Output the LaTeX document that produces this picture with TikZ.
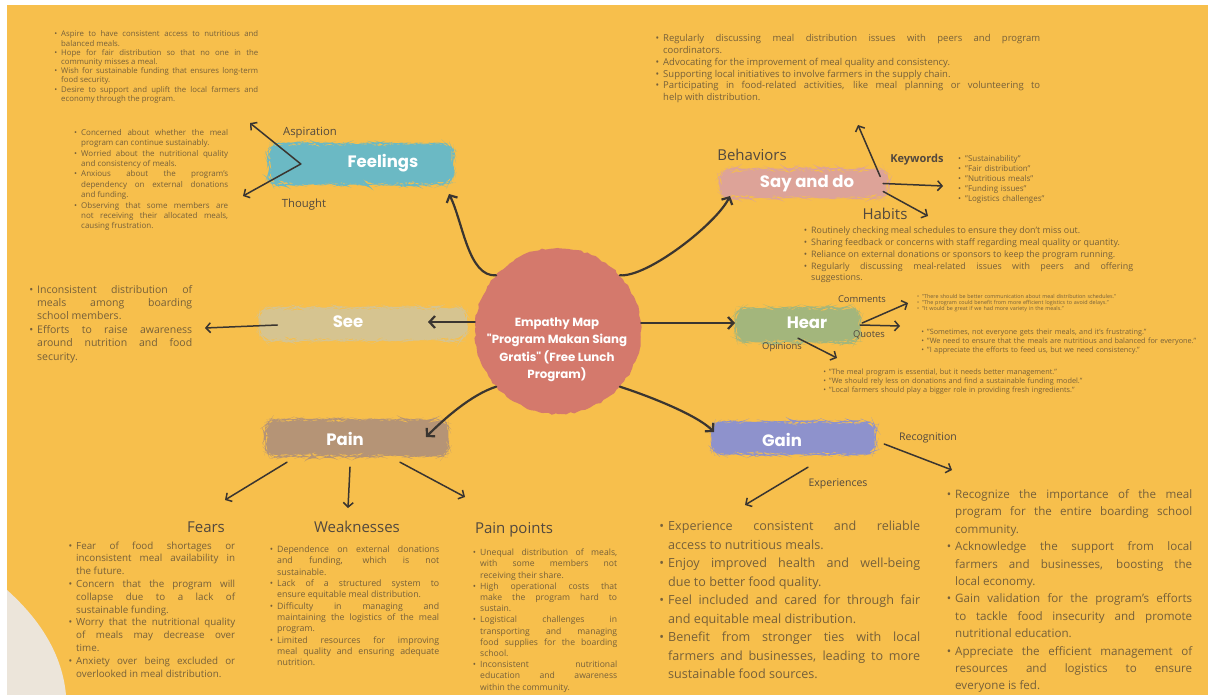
\documentclass[tikz,border=0pt]{standalone}
\usepackage{fontspec}
\setmainfont{Open Sans}
\newfontfamily\brushfont{Poppins}
\usepackage{enumitem}
\setlist[itemize]{label=\textbullet, itemsep=0pt, parsep=0pt, topsep=0pt, partopsep=0pt, labelsep=4pt}
\usetikzlibrary{arrows.meta,decorations.pathmorphing,positioning}
\definecolor{bgorange}{RGB}{247,191,76}
\definecolor{cream}{RGB}{236,229,218}
\definecolor{inkc}{RGB}{58,53,48}
\definecolor{bodyc}{RGB}{118,96,58}
\definecolor{headc}{RGB}{82,72,62}
\definecolor{feelc}{RGB}{107,185,196}
\definecolor{sayc}{RGB}{221,163,152}
\definecolor{seec}{RGB}{214,196,144}
\definecolor{hearc}{RGB}{163,182,124}
\definecolor{painc}{RGB}{181,148,118}
\definecolor{gainc}{RGB}{142,146,204}
\definecolor{circc}{RGB}{212,121,108}
\newcommand{\fsz}[2]{\fontsize{#1}{#2}\selectfont}
\tikzset{
  brush/.style={fill=#1, rectangle, rounded corners=10pt, inner sep=0pt,
    decorate, decoration={random steps, segment length=3pt, amplitude=0.9pt}},
  brushlabel/.style={text=white, font=\brushfont\bfseries\fsz{16.5}{18}},
  textblock/.style={anchor=north west, inner sep=0pt, text=bodyc, align=justify},
  raggedblock/.style={anchor=north west, inner sep=0pt, text=bodyc, align=left},
  heading/.style={text=headc, font=\fsz{15}{18}},
  sublabel/.style={text=headc, font=\fsz{#1}{#1}},
  fieldarrow/.style={draw=inkc, line width=2.2pt, line cap=round, -{Straight Barb[length=5.5pt,width=12pt]}},
  subarrow/.style={draw=inkc, line width=1.5pt, line cap=round, -{Straight Barb[length=4.5pt,width=10pt]}}
}
\begin{document}
\begin{tikzpicture}[x=1pt,y=-1pt]
\useasboundingbox (0,0) rectangle (1208,695);
% Background
\fill[white] (0,0) rectangle (1208,695);
\fill[bgorange] (7,5) rectangle (1208,695);
\fill[cream] (7,590) .. controls (35,615) and (62,650) .. (66,695) -- (7,695) -- cycle;

% Centre
\node[circle, fill=circc, minimum size=166pt, inner sep=0pt, decorate,
  decoration={random steps, segment length=4pt, amplitude=1pt}] (circ) at (558,331) {};
\node[text=white, font=\brushfont\bfseries\fsz{11.8}{17.5}, align=center] (title) at (557,350)
  {Empathy Map\\"Program Makan Siang\\Gratis" (Free Lunch\\Program)};

% Brush strokes
\node[brush=feelc, minimum width=184pt, minimum height=40pt] (feelbg) at (361,164) {};
\node[brushlabel] (feel) at (383,163) {Feelings};
\node[brush=sayc, minimum width=168pt, minimum height=28pt] (saybg) at (804,183.5) {};
\node[brushlabel] (say) at (807,184) {Say and do};
\node[brush=seec, minimum width=207pt, minimum height=32pt] (seebg) at (363,324) {};
\node[brushlabel] (see) at (348,322) {See};
\node[brush=hearc, minimum width=124pt, minimum height=34pt] (hearbg) at (798,325) {};
\node[brushlabel] (hear) at (807,323) {Hear};
\node[brush=painc, minimum width=182pt, minimum height=36pt] (painbg) at (357,438) {};
\node[brushlabel] (pain) at (345,439) {Pain};
\node[brush=gainc, minimum width=164pt, minimum height=32pt] (gainbg) at (794,438) {};
\node[brushlabel] (gain) at (782,440) {Gain};

% Arrow ends
\coordinate (feeltip) at (449,194);
\coordinate (saytip) at (730,196);
\coordinate (seetip) at (428,322);
\coordinate (heartip) at (735,323);
\coordinate (paintip) at (426,437);
\coordinate (gaintip) at (714,432);

% Centre to fields
\draw[fieldarrow] (circ.138) .. controls +(-28,2) and +(14,28) .. (feeltip);
\draw[fieldarrow] (circ.42) .. controls +(28,2) and +(-14,28) .. (saytip);
\draw[fieldarrow] (circ.west |- seetip) -- (seetip);
\draw[fieldarrow] (circ.east |- heartip) -- (heartip);
\draw[fieldarrow] (circ.-138) .. controls +(-25,8) and +(18,-18) .. (paintip);
\draw[fieldarrow] (circ.-42) .. controls +(25,8) and +(-18,-18) .. (gaintip);

% Feelings
\coordinate (asptip) at (250,123);
\coordinate (thotip) at (243,196);
\draw[subarrow] ([xshift=32pt]feelbg.west) -- (asptip);
\draw[subarrow] ([xshift=32pt]feelbg.west) -- (thotip);
\node[sublabel=11.3] (asp) at (310,133) {Aspiration};
\node[sublabel=11.3] (tho) at (304,205) {Thought};
\node[textblock, text width=205pt, font=\fsz{7.8}{9.2}] (aspire) at (53,27.6) {%
\begin{itemize}[leftmargin=8pt]
\item Aspire to have consistent access to nutritious and\linebreak balanced meals.
\item Hope for fair distribution so that no one in the\linebreak community misses a meal.
\item Wish for sustainable funding that ensures long-term\linebreak food security.
\item Desire to support and uplift the local farmers and\linebreak economy through the program.
\end{itemize}};
\node[textblock, text width=156pt, font=\fsz{8}{10.4}] (thought) at (72,124.7) {%
\begin{itemize}[leftmargin=9pt]
\item Concerned about whether the meal\linebreak program can continue sustainably.
\item Worried about the nutritional quality\linebreak and consistency of meals.
\item Anxious about the program's\linebreak dependency on external donations\linebreak and funding.
\item Observing that some members are\linebreak not receiving their allocated meals,\linebreak causing frustration.
\end{itemize}};

% Say and do
\coordinate (behtip) at (858,125);
\coordinate (keytip) at (943,186);
\coordinate (habtip) at (928,216);
\draw[subarrow] ([shift={(-8,-7)}]saybg.east) -- (behtip);
\draw[subarrow] ([xshift=-5pt]saybg.east) -- (keytip);
\draw[subarrow] ([shift={(-5,8)}]saybg.east) -- (habtip);
\node[heading] (beh) at (752,155) {Behaviors};
\node[heading] (hab) at (885,214) {Habits};
\node[text=headc, font=\bfseries\fsz{11}{13}] (key) at (917,160) {Keywords};
\node[textblock, text width=386pt, font=\fsz{9.5}{11.8}] (behave) at (654,29.8) {%
\begin{itemize}[leftmargin=9pt]
\item Regularly discussing meal distribution issues with peers and program\linebreak coordinators.
\item Advocating for the improvement of meal quality and consistency.
\item Supporting local initiatives to involve farmers in the supply chain.
\item Participating in food-related activities, like meal planning or volunteering to\linebreak help with distribution.
\end{itemize}};
\node[raggedblock, text width=130pt, font=\fsz{8}{10}] (keys) at (954,151) {%
\begin{itemize}[leftmargin=11pt]
\item "Sustainability"
\item "Fair distribution"
\item "Nutritious meals"
\item "Funding issues"
\item "Logistics challenges"
\end{itemize}};
\node[textblock, text width=331pt, font=\fsz{8.9}{11.8}] (habits) at (802,221.8) {%
\begin{itemize}[leftmargin=9pt]
\item Routinely checking meal schedules to ensure they don't miss out.
\item Sharing feedback or concerns with staff regarding meal quality or quantity.
\item Reliance on external donations or sponsors to keep the program running.
\item Regularly discussing meal-related issues with peers and offering\linebreak suggestions.
\end{itemize}};

% See
\coordinate (seetxt) at (205,328);
\draw[subarrow] ([shift={(18,1)}]seebg.west) -- (seetxt);
\node[textblock, text width=168pt, font=\fsz{10.5}{13.4}] (seelist) at (24,279.6) {%
\begin{itemize}[leftmargin=13pt]
\item Inconsistent distribution of\linebreak meals among boarding\linebreak school members.
\item Efforts to raise awareness\linebreak around nutrition and food\linebreak security.
\end{itemize}};

% Hear
\coordinate (comtip) at (908,303);
\coordinate (quotip) at (900,326);
\coordinate (opitip) at (837,358);
\draw[subarrow] ([shift={(2,-2)}]hearbg.east) -- (comtip);
\draw[subarrow] (hearbg.east) -- (quotip);
\draw[subarrow] ([yshift=4pt]hearbg.south) -- (opitip);
\node[sublabel=9.4] (com) at (862,299) {Comments};
\node[sublabel=9.4] (quo) at (869,335) {Quotes};
\node[sublabel=9.4] (opi) at (782,347) {Opinions};
\node[raggedblock, text width=215pt, font=\fsz{5.4}{6.2}] (comlist) at (915,291.7) {%
\begin{itemize}[leftmargin=7pt, labelsep=3pt]
\item "There should be better communication about meal distribution schedules."
\item "The program could benefit from more efficient logistics to avoid delays."
\item "It would be great if we had more variety in the meals."
\end{itemize}};
\node[raggedblock, text width=285pt, font=\fsz{7.3}{9}] (quolist) at (920,325.7) {%
\begin{itemize}[leftmargin=7pt, labelsep=3pt]
\item "Sometimes, not everyone gets their meals, and it's frustrating."
\item "We need to ensure that the meals are nutritious and balanced for everyone."
\item "I appreciate the efforts to feed us, but we need consistency."
\end{itemize}};
\node[raggedblock, text width=290pt, font=\fsz{7.3}{9.3}] (opilist) at (822,364.5) {%
\begin{itemize}[leftmargin=7pt, labelsep=3pt]
\item "The meal program is essential, but it needs better management."
\item "We should rely less on donations and find a sustainable funding model."
\item "Local farmers should play a bigger role in providing fresh ingredients."
\end{itemize}};

% Pain
\coordinate (feartip) at (225,500);
\coordinate (weaktip) at (348,508);
\coordinate (pptip) at (465,497);
\draw[subarrow] ([shift={(-70,6)}]painbg.south) -- (feartip);
\draw[subarrow] ([shift={(-7,11)}]painbg.south) -- (weaktip);
\draw[subarrow] ([shift={(43,6)}]painbg.south) -- (pptip);
\node[heading] (fear) at (206,527) {Fears};
\node[heading] (weak) at (357,527) {Weaknesses};
\node[heading] (pp) at (514,530) {Pain points};
\node[textblock, text width=169pt, font=\fsz{9.8}{12.8}] (fearlist) at (66,536) {%
\begin{itemize}[leftmargin=10pt]
\item Fear of food shortages or\linebreak inconsistent meal availability in\linebreak the future.
\item Concern that the program will\linebreak collapse due to a lack of\linebreak sustainable funding.
\item Worry that the nutritional quality\linebreak of meals may decrease over\linebreak time.
\item Anxiety over being excluded or\linebreak overlooked in meal distribution.
\end{itemize}};
\node[textblock, text width=172pt, font=\fsz{8.8}{11.3}] (weaklist) at (267,541.1) {%
\begin{itemize}[leftmargin=10pt]
\item Dependence on external donations\linebreak and funding, which is not\linebreak sustainable.
\item Lack of a structured system to\linebreak ensure equitable meal distribution.
\item Difficulty in managing and\linebreak maintaining the logistics of the meal\linebreak program.
\item Limited resources for improving\linebreak meal quality and ensuring adequate\linebreak nutrition.
\end{itemize}};
\node[textblock, text width=148pt, font=\fsz{8.6}{11.2}] (pplist) at (469,544.2) {%
\begin{itemize}[leftmargin=11pt]
\item Unequal distribution of meals,\linebreak with some members not\linebreak receiving their share.
\item High operational costs that\linebreak make the program hard to\linebreak sustain.
\item Logistical challenges in\linebreak transporting and managing\linebreak food supplies for the boarding\linebreak school.
\item Inconsistent nutritional\linebreak education and awareness\linebreak within the community.
\end{itemize}};

% Gain
\coordinate (rectip) at (952,470);
\coordinate (exptip) at (745,505);
\draw[subarrow] ([shift={(8,6)}]gainbg.east) -- (rectip);
\draw[subarrow] ([shift={(14,13)}]gainbg.south) -- (exptip);
\node[sublabel=10.5] (rec) at (928,438) {Recognition};
\node[sublabel=10.5] (exp) at (838,484) {Experiences};
\node[textblock, text width=264pt, font=\fsz{12.6}{18.5}] (explist) at (656,512) {%
\begin{itemize}[leftmargin=12pt]
\item Experience consistent and reliable\linebreak access to nutritious meals.
\item Enjoy improved health and well-being\linebreak due to better food quality.
\item Feel included and cared for through fair\linebreak and equitable meal distribution.
\item Benefit from stronger ties with local\linebreak farmers and businesses, leading to more\linebreak sustainable food sources.
\end{itemize}};
\node[textblock, text width=248pt, font=\fsz{11.6}{17.4}] (reclist) at (944,480.8) {%
\begin{itemize}[leftmargin=11pt]
\item Recognize the importance of the meal\linebreak program for the entire boarding school\linebreak community.
\item Acknowledge the support from local\linebreak farmers and businesses, boosting the\linebreak local economy.
\item Gain validation for the program's efforts\linebreak to tackle food insecurity and promote\linebreak nutritional education.
\item Appreciate the efficient management of\linebreak resources and logistics to ensure\linebreak everyone is fed.
\end{itemize}};
\end{tikzpicture}
\end{document}
